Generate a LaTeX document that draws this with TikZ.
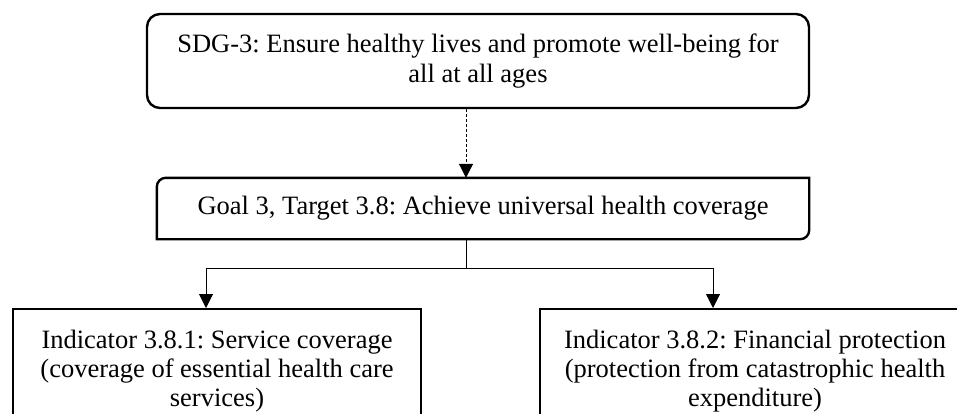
\documentclass[tikz,border=0pt]{standalone}
\usepackage{fontspec}
\setmainfont{Liberation Serif}
\frenchspacing
\usetikzlibrary{arrows.meta,positioning}

\begin{document}
\begin{tikzpicture}[x=1pt,y=-1pt,
  goalbox/.style={draw,line width=2.4pt,rounded corners=13pt,minimum width=662pt,minimum height=94pt,align=center,font=\fontsize{26.5}{30}\selectfont},
  targetbox/.style={minimum width=652pt,minimum height=61pt,align=center,font=\fontsize{26.5}{30}\selectfont},
  indbox/.style={draw,line width=2.4pt,anchor=north,minimum height=124pt,align=center,font=\fontsize{26.5}{29}\selectfont},
  link/.style={line width=1pt,-{Triangle[length=14pt,width=14pt]}}
]
\useasboundingbox (0,0) rectangle (957,414);
\clip (0,0) rectangle (957,414);
\node[goalbox] (sdg) at (478,61) {SDG-3: Ensure healthy lives and promote well-being for\\all at all ages};
\node[targetbox] (target) at (483,208.5) {Goal 3, Target 3.8: Achieve universal health coverage};
\draw[line width=2.4pt] (target.south west) -- ([yshift=-9pt]target.north west)
  arc[start angle=180,end angle=90,radius=9pt] -- (target.north east)
  -- ([yshift=9pt]target.south east) arc[start angle=0,end angle=-90,radius=9pt] -- cycle;
\node[indbox,minimum width=408pt] (ind1) at (217,308) {Indicator 3.8.1: Service coverage\\(coverage of essential health care\\services)};
\node[indbox,minimum width=430pt] (ind2) at (755,308) {Indicator 3.8.2: Financial protection\\(protection from catastrophic health\\expenditure)};
\coordinate (split) at (466,268);
\coordinate (leftdrop) at (206,268);
\coordinate (rightdrop) at (713,268);
\draw[link,dashed,dash pattern=on 3pt off 2pt] (sdg.south -| split) -- (target.north -| split);
\draw[line width=1pt] (target.south -| split) -- (split);
\draw[line width=1pt] (leftdrop) -- (rightdrop);
\draw[link] (leftdrop) -- (leftdrop |- ind1.north);
\draw[link] (rightdrop) -- (rightdrop |- ind2.north);
\end{tikzpicture}
\end{document}
